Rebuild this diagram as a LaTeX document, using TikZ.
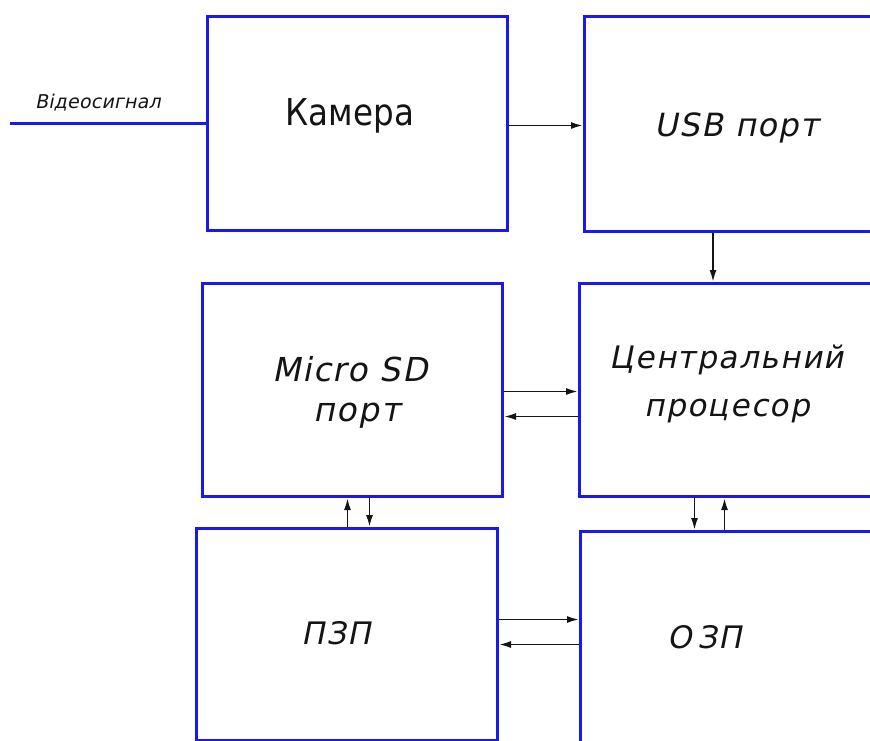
\documentclass[tikz,border=0pt]{standalone}
\usepackage{fontspec}
\usetikzlibrary{arrows.meta,calc}
\newfontfamily\gost[FakeStretch=0.88]{DejaVu Sans}
\newfontfamily\gostit[FakeSlant=0.2,LetterSpace=5]{DejaVu Sans}
\newfontfamily\gostsm[FakeSlant=0.2,LetterSpace=1]{DejaVu Sans}
\definecolor{boxblue}{RGB}{25,25,235}
\definecolor{ink}{RGB}{20,20,20}
\tikzset{
  x=1pt,y=1pt,
  blk/.style={draw=boxblue,line width=3pt,inner sep=0pt,anchor=north west},
  arr/.style={draw=ink,line width=1.8pt,-{Latex[length=12pt,width=7pt]}},
  lbl/.style={text=ink,inner sep=0pt,align=center},
}
\begin{document}
\begin{tikzpicture}
\useasboundingbox (0,0) rectangle (870,-740);
\clip (0,0) rectangle (870,-740);
% boxes
\node[blk,minimum width=300pt,minimum height=214pt] (cam) at (206,-15) {};
\node[blk,minimum width=305pt,minimum height=215pt] (usb) at (583,-15) {};
\node[blk,minimum width=300pt,minimum height=213pt] (sd)  at (201,-282) {};
\node[blk,minimum width=310pt,minimum height=213pt] (cpu) at (578,-282) {};
\node[blk,minimum width=301pt,minimum height=212pt] (rom) at (195,-527) {};
\node[blk,minimum width=310pt,minimum height=220pt] (ram) at (579,-530) {};
% labels
\node[lbl,font=\gost\fontsize{37}{40}\selectfont] (tcam) at (350,-116) {Камера};
\node[lbl,font=\gostit\fontsize{32}{36}\selectfont] (tusb) at (737,-128) {USB порт};
\node[lbl,font=\gostit\fontsize{33}{40}\selectfont] (tsd) at (350,-392) {Micro SD\\\hspace*{14pt}порт};
\node[lbl,font=\gostit\fontsize{31}{48}\selectfont] (tcpu) at (727,-384) {Центральний\\процесор};
\node[lbl,font=\gostit\fontsize{31}{36}\selectfont] (trom) at (336,-633) {ПЗП};
\node[lbl,font=\gostit\fontsize{31}{36}\selectfont] (tram) at (705,-637) {О\kern5ptЗП};
\node[lbl,font=\gostsm\fontsize{19}{22}\selectfont] (tvid) at (98,-103) {Відеосигнал};
% input line
\coordinate (vin) at (10,-123);
\draw[draw=boxblue,line width=3pt] (vin) -- (vin -| cam.west);
% connectors
\draw[arr] ([yshift=-2pt]cam.east) -- ([yshift=-2pt]cam.east -| usb.west);
\draw[arr] ([xshift=-24pt]usb.south) -- ([xshift=-24pt]usb.south |- cpu.north);
\draw[arr] ([yshift=-1.5pt]sd.east) -- ([yshift=-1.5pt]sd.east -| cpu.west);
\draw[arr] ([yshift=-26.5pt]sd.east -| cpu.west) -- ([yshift=-26.5pt]sd.east);
\draw[arr] ([xshift=-5pt]sd.south |- rom.north) -- ([xshift=-5pt]sd.south);
\draw[arr] ([xshift=17pt]sd.south) -- ([xshift=17pt]sd.south |- rom.north);
\draw[arr] ([xshift=-40pt]cpu.south) -- ([xshift=-40pt]cpu.south |- ram.north);
\draw[arr] ([xshift=-10pt]cpu.south |- ram.north) -- ([xshift=-10pt]cpu.south);
\draw[arr] ([yshift=15pt]rom.east) -- ([yshift=15pt]rom.east -| ram.west);
\draw[arr] ([yshift=-10pt]rom.east -| ram.west) -- ([yshift=-10pt]rom.east);
\end{tikzpicture}
\end{document}
